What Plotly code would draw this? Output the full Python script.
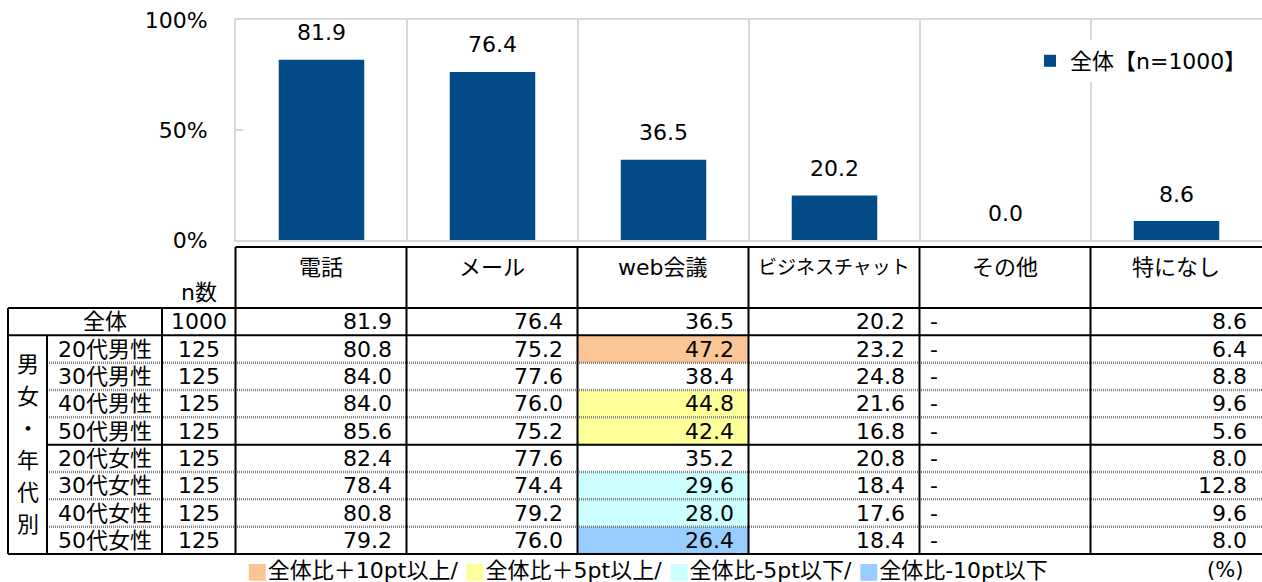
import plotly.graph_objects as go

# ---------------- data ----------------
categories = ['電話', 'メール', 'web会議', 'ビジネスチャット', 'その他', '特になし']
overall = [81.9, 76.4, 36.5, 20.2, 0.0, 8.6]
overall_n = 1000
legend_name = '全体【n=1000】'

row_labels = ['20代男性', '30代男性', '40代男性', '50代男性',
              '20代女性', '30代女性', '40代女性', '50代女性']
row_n = [125, 125, 125, 125, 125, 125, 125, 125]
tel = [80.8, 84.0, 84.0, 85.6, 82.4, 78.4, 80.8, 79.2]
mail = [75.2, 77.6, 76.0, 75.2, 77.6, 74.4, 79.2, 76.0]
web = [47.2, 38.4, 44.8, 42.4, 35.2, 29.6, 28.0, 26.4]
chat = [23.2, 24.8, 21.6, 16.8, 20.8, 18.4, 17.6, 18.4]
other = [None, None, None, None, None, None, None, None]
nothing = [6.4, 8.8, 9.6, 5.6, 8.0, 12.8, 9.6, 8.0]
group_label = '男女・年代別'
y_ticks = [0, 50, 100]
legend_items = [('#FBC596', '全体比＋10pt以上/ '), ('#FFFF99', '全体比＋5pt以上/ '),
                ('#CCFFFF', '全体比-5pt以下/ '), ('#99CCFF', '全体比-10pt以下')]
unit_label = '(%)'

# ---------------- style / layout ----------------
W, H = 1262, 582
BAR = '#034B87'
GRID = '#D9D9D9'
FONT = 'DejaVu Sans, Noto Sans CJK JP, sans-serif'
FS = 22
PLOT_L, PLOT_T, PLOT_B = 236, 20, 240
COL_W = (W - PLOT_L) / 6
HEAD_T = 247
ROW_T, ROW_B = 308, 554
X_OUT, X_GRP, X_LAB, X_N = 8, 47, 162, 235.5

cols = [tel, mail, web, chat, other, nothing]
n_rows = 1 + len(row_labels)
ROW_H = (ROW_B - ROW_T) / n_rows
col_left = [X_N + k * COL_W for k in range(6)]


def rowc(i):
    return ROW_T + ROW_H * (i + 0.5)


def rowtop(i):
    return ROW_T + ROW_H * i


fig = go.Figure()
fig.add_trace(go.Bar(x=list(range(len(categories))), y=overall, width=0.5,
                     marker=dict(color=BAR, line=dict(width=0)), name=legend_name,
                     hoverinfo='skip', xaxis='x', yaxis='y'))
fig.add_trace(go.Scatter(x=[None], y=[None], xaxis='x2', yaxis='y2',
                         showlegend=False, hoverinfo='skip'))

ann = []
for i, v in enumerate(overall):
    ann.append(dict(x=i, y=v, xref='x', yref='y', text=f'{v:.1f}', showarrow=False,
                    yanchor='middle', yshift=27, font=dict(size=FS, color='#000')))

shapes = []


def line(x0, y0, x1, y1, dash='solid', color='#000', width=2):
    shapes.append(dict(type='line', xref='x2', yref='y2', x0=x0, y0=y0, x1=x1, y1=y1,
                       line=dict(color=color, width=width, dash=dash), layer='above'))


def tx(x, y, s, anchor='center', size=FS):
    ann.append(dict(x=x, y=y, xref='x2', yref='y2', text=s, showarrow=False,
                    xanchor=anchor, yanchor='middle', font=dict(size=size, color='#000')))


# highlight fills
for k, col in enumerate(cols):
    base = overall[k]
    for r, v in enumerate(col):
        if v is None:
            continue
        d = v - base
        c = None
        if d >= 10:
            c = '#FBC596'
        elif d >= 5:
            c = '#FFFF99'
        elif d <= -10:
            c = '#99CCFF'
        elif d <= -5:
            c = '#CCFFFF'
        if c:
            shapes.append(dict(type='rect', xref='x2', yref='y2',
                               x0=col_left[k], x1=col_left[k] + COL_W,
                               y0=rowtop(r + 1), y1=rowtop(r + 2),
                               fillcolor=c, line=dict(width=0), layer='below'))

# table lines
for r in (2, 3, 4, 6, 7, 8):
    line(X_GRP, rowtop(r), W + 2, rowtop(r), dash='1px,1px', color='#808080', width=2.5)
line(X_N, HEAD_T, W + 2, HEAD_T)
line(X_OUT, ROW_T, W + 2, ROW_T)
line(X_OUT, rowtop(1), W + 2, rowtop(1))
line(X_GRP, rowtop(5), W + 2, rowtop(5))
line(X_OUT, ROW_B, W + 2, ROW_B)
line(X_OUT, ROW_T, X_OUT, ROW_B)
line(X_GRP, rowtop(1), X_GRP, ROW_B)
line(X_LAB, ROW_T, X_LAB, ROW_B)
for k in range(6):
    line(col_left[k], HEAD_T, col_left[k], ROW_B)

# header texts
for k, name in enumerate(categories):
    tx(col_left[k] + COL_W / 2, 267, name, size=(19 if len(name) > 6 else FS))
tx((X_LAB + X_N) / 2, 292, 'n数')

# rows
tx(105, rowc(0), '全体')
tx((X_LAB + X_N) / 2, rowc(0), str(overall_n))
for k in range(6):
    v = overall[k]
    if k == 4:
        tx(col_left[k] + 8, rowc(0), '-', anchor='left')
    else:
        tx(col_left[k] + COL_W - 13, rowc(0), f'{v:.1f}', anchor='right')
for r, lab in enumerate(row_labels):
    tx((X_GRP + X_LAB) / 2, rowc(r + 1), lab)
    tx((X_LAB + X_N) / 2, rowc(r + 1), str(row_n[r]))
    for k, col in enumerate(cols):
        v = col[r]
        if v is None:
            tx(col_left[k] + 8, rowc(r + 1), '-', anchor='left')
        else:
            tx(col_left[k] + COL_W - 13, rowc(r + 1), f'{v:.1f}', anchor='right')

# vertical group label
mid = (rowtop(1) + ROW_B) / 2
for j, ch in enumerate(group_label):
    tx((X_OUT + X_GRP) / 2, mid + (j - (len(group_label) - 1) / 2) * 32, ch)

# bottom legend
leg = ''.join(f'<span style="color:{c}">■</span>{t}' for c, t in legend_items)
ann.append(dict(x=245, y=570, xref='x2', yref='y2', text=leg, showarrow=False,
                xanchor='left', yanchor='middle', font=dict(size=22, color='#000')))
tx(1245, 570, unit_label, anchor='right', size=21)

fig.update_layout(
    width=W, height=H, margin=dict(l=0, r=0, t=0, b=0, pad=0, autoexpand=False),
    paper_bgcolor='white', plot_bgcolor='rgba(0,0,0,0)',
    font=dict(family=FONT, size=FS, color='#000'),
    showlegend=True,
    legend=dict(x=1030 / W, y=1 - 40 / H, xanchor='left', yanchor='top',
                font=dict(size=FS), bgcolor='white', borderwidth=0),
    xaxis=dict(domain=[PLOT_L / W, 1.0], range=[-0.5, 5.5], showticklabels=False,
               tickvals=[0.5, 1.5, 2.5, 3.5, 4.5], ticks='', showgrid=True,
               gridcolor=GRID, gridwidth=1.5, zeroline=False, showline=True,
               linecolor=GRID, linewidth=2, mirror=True, fixedrange=True,
               automargin=False),
    yaxis=dict(domain=[1 - PLOT_B / H, 1 - PLOT_T / H], range=[0, 100],
               tickmode='array', tickvals=y_ticks, ticktext=[f'{v}%' for v in y_ticks],
               ticks='inside', ticklen=7,
               tickcolor=GRID, tickwidth=2, showgrid=False, zeroline=False,
               showline=True, linecolor=GRID, linewidth=2, mirror=True,
               ticklabelstandoff=22, tickfont=dict(size=FS), fixedrange=True,
               automargin=False),
    xaxis2=dict(domain=[0, 1], range=[0, W], visible=False, anchor='y2',
                fixedrange=True, automargin=False),
    yaxis2=dict(domain=[0, 1], range=[H, 0], visible=False, anchor='x2',
                fixedrange=True, automargin=False),
    shapes=shapes, annotations=ann,
)
fig.write_html('out.html', config={'displayModeBar': False},
               post_script="document.body.style.margin='0';document.body.style.overflow='hidden';")
